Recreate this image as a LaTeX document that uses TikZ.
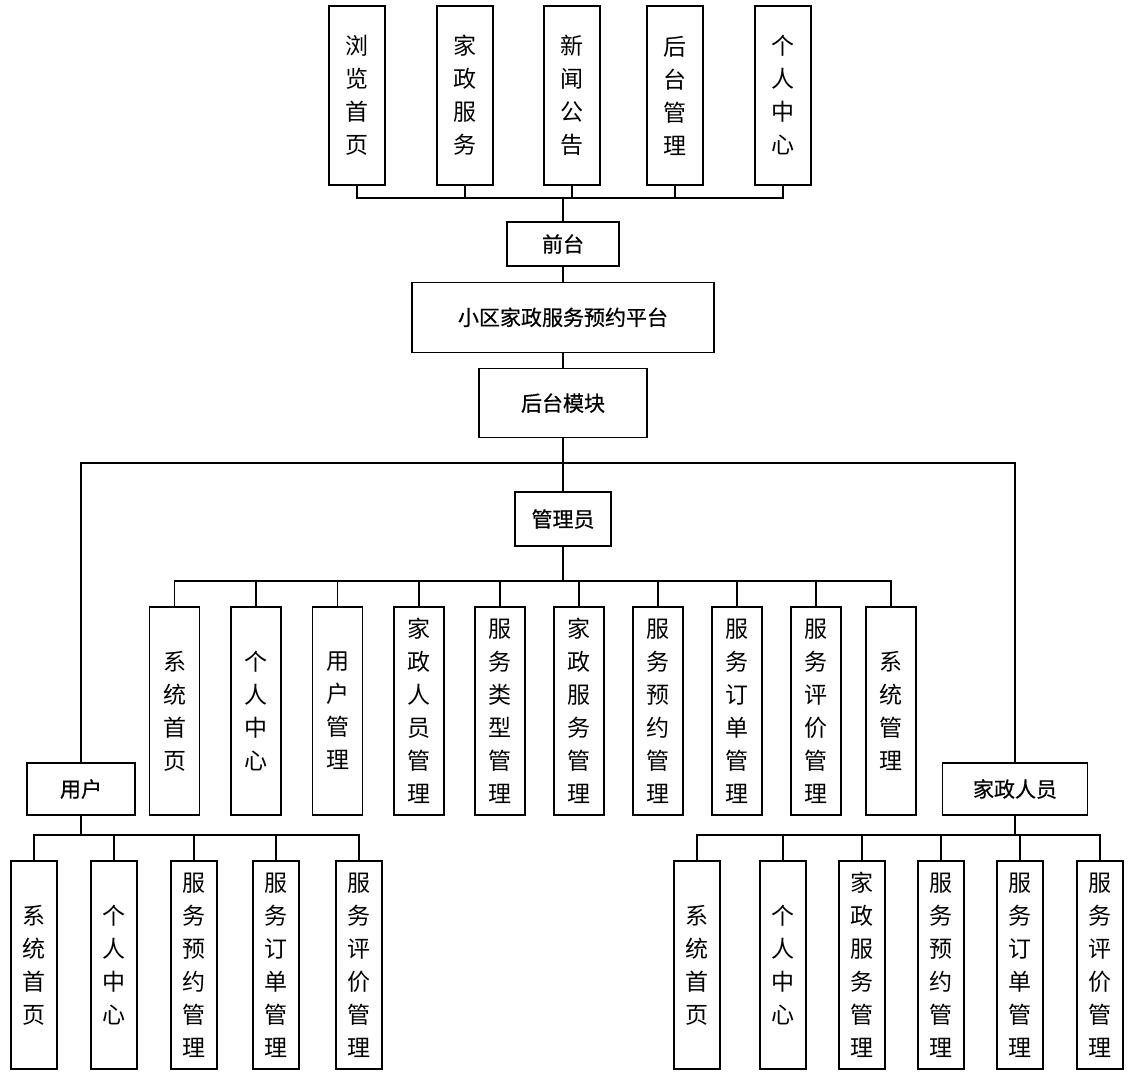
\documentclass[tikz,border=0pt]{standalone}
\usepackage{fontspec}
\newfontfamily\cjk{Noto Sans CJK SC}
\newfontfamily\cjkhead[FakeBold=0.6]{Noto Sans CJK SC}
\usetikzlibrary{positioning,calc}

\begin{document}
\begin{tikzpicture}[
  x=1pt, y=-1pt,
  node distance=15pt,
  box/.style={draw=black, line width=1.3pt, fill=white, inner sep=0pt,
              align=center, font=\cjkhead\fontsize{21}{26}\selectfont},
  leaf/.style={box, minimum height=208pt, font=\cjk\fontsize{23}{33}\selectfont},
  wire/.style={line width=1.3pt, black}
]
\useasboundingbox (0,0) rectangle (1135,1086);

\node[box, minimum width=112pt, minimum height=44pt] (front) at (563,244) {前台};
\node[box, minimum width=302pt, minimum height=70pt, below=of front] (plat) {小区家政服务预约平台};
\node[box, minimum width=168pt, minimum height=69pt, below=of plat] (backend) {后台模块};
\node[box, minimum width=96pt, minimum height=54pt] (admin) at (563,519) {管理员};
\node[box, minimum width=108pt, minimum height=52pt] (user) at (81,789) {用户};
\node[box, minimum width=145pt, minimum height=52pt] (staff) at (1015,789) {家政人员};

\foreach \x/\t [count=\i] in {357/浏\\览\\首\\页, 465/家\\政\\服\\务, 572/新\\闻\\公\\告,
    675/后\\台\\管\\理, 783/个\\人\\中\\心}
  \node[leaf, minimum width=56pt, minimum height=179pt] (top\i) at (\x,95.5) {\t};

\foreach \x/\t [count=\i] in {174.5/系\\统\\首\\页, 256/个\\人\\中\\心, 337.5/用\\户\\管\\理,
    419/家\\政\\人\\员\\管\\理, 500/服\\务\\类\\型\\管\\理, 579/家\\政\\服\\务\\管\\理,
    658/服\\务\\预\\约\\管\\理, 737/服\\务\\订\\单\\管\\理, 816/服\\务\\评\\价\\管\\理,
    891/系\\统\\管\\理}
  \node[leaf, minimum width=50pt] (adm\i) at (\x,711) {\t};

\foreach \x/\t [count=\i] in {34/系\\统\\首\\页, 114/个\\人\\中\\心, 194/服\\务\\预\\约\\管\\理,
    276/服\\务\\订\\单\\管\\理, 359/服\\务\\评\\价\\管\\理}
  \node[leaf, minimum width=46pt] (usr\i) at (\x,965) {\t};

\foreach \x/\t [count=\i] in {697/系\\统\\首\\页, 783/个\\人\\中\\心, 862/家\\政\\服\\务\\管\\理,
    941/服\\务\\预\\约\\管\\理, 1020/服\\务\\订\\单\\管\\理, 1100/服\\务\\评\\价\\管\\理}
  \node[leaf, minimum width=46pt] (stf\i) at (\x,965) {\t};

\coordinate (topbus) at (563,198);
\coordinate (midbus) at (563,463);
\coordinate (admbus) at (563,581);
\coordinate (usrbus) at (81,835);
\coordinate (stfbus) at (1015,835);

\foreach \i in {1,...,5}
  \draw[wire] (top\i.south) |- (topbus);
\draw[wire] (topbus) -- (front);
\foreach \a/\b in {front/plat, plat/backend, backend/admin}
  \draw[wire] (\a) -- (\b);
\draw[wire] (user.north) |- (midbus) -| (staff.north);
\draw[wire] (admin) -- (admbus);
\foreach \i in {1,...,10}
  \draw[wire] (adm\i.north) |- (admbus);
\draw[wire] (user) -- (usrbus);
\foreach \i in {1,...,5}
  \draw[wire] (usr\i.north) |- (usrbus);
\draw[wire] (staff) -- (stfbus);
\foreach \i in {1,...,6}
  \draw[wire] (stf\i.north) |- (stfbus);
\end{tikzpicture}
\end{document}
